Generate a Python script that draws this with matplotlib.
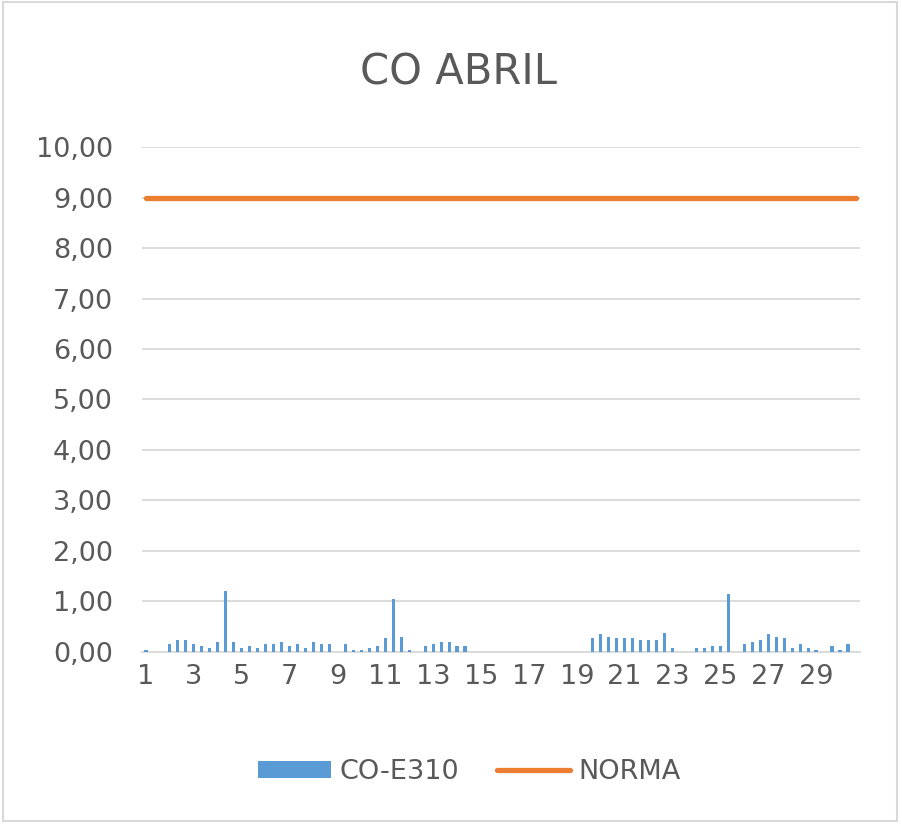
import numpy as np
import matplotlib
matplotlib.use("Agg")
import matplotlib.pyplot as plt
from matplotlib.patches import Rectangle

# 3 lecturas por dia, 30 dias de abril
dias = [str(d) for d in range(1, 31) for _ in range(3)]
co_e310 = [0.04, 0, 0, 0.16, 0.23, 0.23, 0.16, 0.12, 0.08, 0.20,
           1.20, 0.20, 0.08, 0.12, 0.07, 0.16, 0.16, 0.20, 0.12, 0.16,
           0.08, 0.20, 0.16, 0.16, 0, 0.16, 0.04, 0.04, 0.08, 0.12,
           0.27, 1.05, 0.30, 0.04, 0, 0.12, 0.16, 0.20, 0.20, 0.12,
           0.12, 0, 0, 0, 0, 0, 0, 0, 0, 0,
           0, 0, 0, 0, 0, 0, 0.27, 0.35, 0.30, 0.27,
           0.27, 0.27, 0.23, 0.23, 0.23, 0.38, 0.08, 0, 0, 0.08,
           0.08, 0.12, 0.12, 1.14, 0, 0.16, 0.20, 0.23, 0.35, 0.30,
           0.27, 0.08, 0.16, 0.08, 0.04, 0, 0.12, 0.04, 0.16, 0]
norma = [9.0] * len(dias)
y_ticks = [0, 1, 2, 3, 4, 5, 6, 7, 8, 9, 10]
y_labels = ["0,00", "1,00", "2,00", "3,00", "4,00", "5,00",
            "6,00", "7,00", "8,00", "9,00", "10,00"]

gris = "#595959"
linea = "#d9d9d9"

fig = plt.figure(figsize=(9.02, 8.26), dpi=100)
ax = fig.add_axes([0.1574, 0.2107, 0.7960, 0.6113])

x = np.arange(len(dias))
barras = ax.bar(x, co_e310, width=0.4, color="#5B9BD5", label="CO-E310", zorder=2)
linea_norma, = ax.plot(x, norma, color="#ED7D31", lw=3.8, solid_capstyle="round",
                       label="NORMA", zorder=3)

ax.set_xlim(-0.5, len(dias) - 0.5)
ax.set_ylim(0, 10)
ax.set_yticks(y_ticks)
ax.set_yticklabels(y_labels)
ax.set_xticks(x[::6])
ax.set_xticklabels(dias[::6])
ax.tick_params(axis="y", length=0, pad=21, labelsize=19.5, labelcolor=gris)
ax.tick_params(axis="x", length=0, pad=9, labelsize=19.5, labelcolor=gris)
ax.grid(axis="y", color=linea, lw=1.3, zorder=0)
for s in ["left", "right", "top"]:
    ax.spines[s].set_visible(False)
ax.spines["bottom"].set_color(linea)
ax.spines["bottom"].set_linewidth(1.3)
ax.spines["bottom"].set_zorder(1)

fig.text(0.508, 0.912, "CO ABRIL", ha="center", va="center", fontsize=30, color=gris)

fig.legend([barras, linea_norma], ["CO-E310", "NORMA"],
           loc="center", bbox_to_anchor=(0.52, 0.0654), ncol=2, frameon=False,
           fontsize=19.5, labelcolor=gris, handlelength=2.7, handleheight=0.55,
           handletextpad=0.3, columnspacing=1.4)

fig.patches.append(Rectangle((0.003, 0.006), 0.992, 0.991, transform=fig.transFigure,
                             fill=False, edgecolor=linea, lw=1.5))

fig.savefig("out.png", dpi=100)
